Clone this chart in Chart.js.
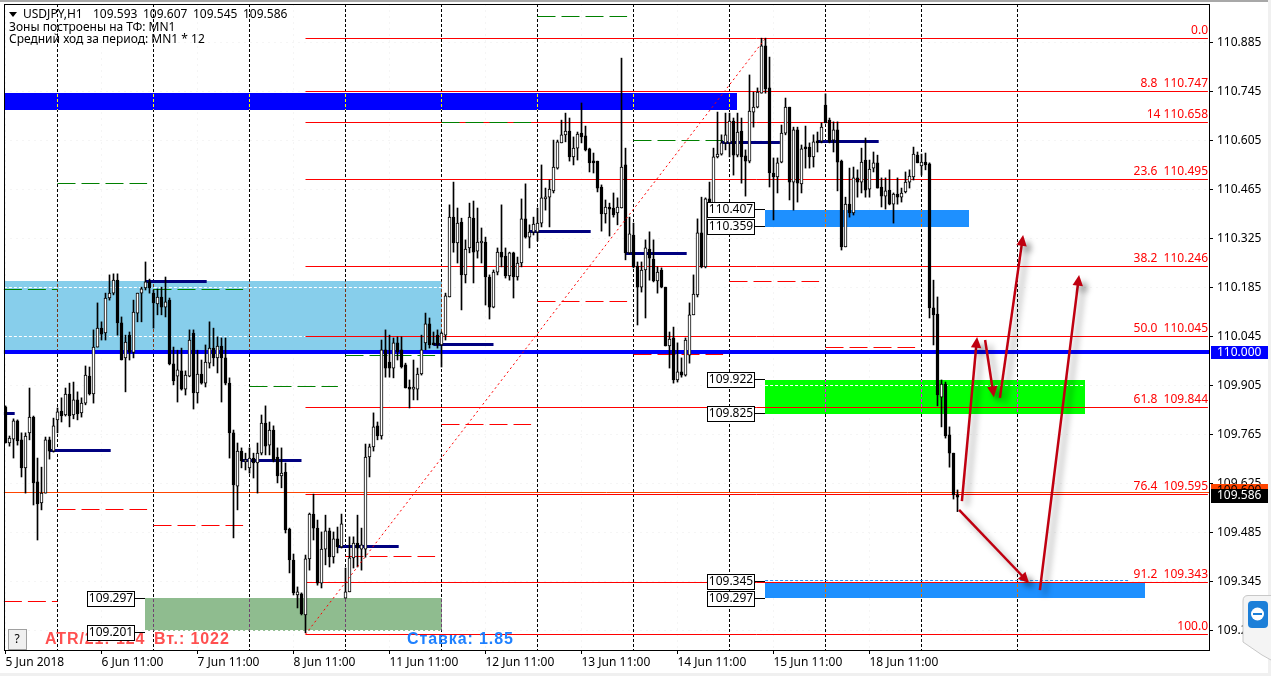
<!DOCTYPE html>
<html>
<head>
<meta charset="utf-8">
<title>USDJPY,H1</title>
<script src="https://cdn.jsdelivr.net/npm/chart.js@4"></script>
<style>
  html, body { margin: 0; padding: 0; background: #fff; overflow: hidden; }
  canvas { display: block; }
</style>
</head>
<body>
<canvas id="chart" width="1271" height="676"></canvas>
<script>
const opens = [
  109.844,109.741,109.752,109.804,109.750,109.670,109.770,109.815,109.630,109.570,
  109.598,109.750,109.718,109.807,109.832,109.821,109.881,109.821,109.864,109.827,
  109.855,109.932,109.881,110.015,110.069,110.055,110.155,110.169,110.206,110.084,
  109.984,110.049,110.000,110.112,110.169,110.184,110.201,110.169,110.138,110.158,
  110.129,110.149,109.967,109.932,109.947,109.895,109.932,110.055,109.884,109.938,
  109.912,109.969,110.012,109.984,110.018,109.984,109.912,109.770,109.618,109.718,
  109.687,109.670,109.698,109.684,109.712,109.798,109.735,109.778,109.701,109.647,
  109.658,109.495,109.407,109.307,109.310,109.250,109.410,109.538,109.498,109.341,
  109.438,109.490,109.416,109.467,109.444,109.298,109.316,109.413,109.455,109.438,
  109.438,109.701,109.730,109.790,109.761,110.007,109.972,109.955,110.027,110.007,
  109.964,109.898,109.895,109.895,109.938,110.027,110.081,110.027,110.049,110.021,
  110.049,110.158,110.386,110.312,110.372,110.221,110.298,110.383,110.289,110.312,
  110.315,110.215,110.129,110.229,110.286,110.275,110.218,110.284,110.215,110.255,
  110.381,110.329,110.343,110.343,110.369,110.438,110.443,110.461,110.526,110.598,
  110.621,110.632,110.558,110.583,110.626,110.618,110.581,110.546,110.546,110.472,
  110.395,110.415,110.412,110.398,110.412,110.535,110.284,110.335,110.246,110.186,
  110.235,110.295,110.266,110.204,110.235,110.186,110.018,110.041,109.921,109.944,
  109.935,109.992,110.107,110.164,110.341,110.244,110.438,110.426,110.558,110.566,
  110.598,110.598,110.660,110.563,110.632,110.561,110.546,110.686,110.700,110.740,
  110.875,110.755,110.512,110.501,110.543,110.626,110.700,110.486,110.635,110.481,
  110.586,110.586,110.558,110.601,110.603,110.706,110.663,110.606,110.635,110.546,
  110.301,110.423,110.398,110.498,110.486,110.549,110.466,110.526,110.541,110.472,
  110.446,110.463,110.423,110.452,110.443,110.458,110.486,110.501,110.563,110.532,
  110.543,110.538,110.127,110.109,109.872,109.909,109.764,109.712,109.593
];
const highs = [
  109.847,109.761,109.810,109.807,109.770,109.770,109.898,109.818,109.698,109.672,
  109.758,109.758,109.812,109.841,109.870,109.898,109.912,109.915,109.887,109.870,
  109.961,109.958,110.064,110.141,110.087,110.169,110.221,110.224,110.224,110.101,
  110.049,110.058,110.149,110.169,110.186,110.258,110.209,110.178,110.181,110.186,
  110.215,110.155,110.015,110.006,110.012,109.947,110.064,110.064,110.006,109.978,
  110.021,110.087,110.069,110.044,110.041,110.041,109.927,109.778,109.741,109.727,
  109.712,109.727,109.712,109.741,109.821,109.847,109.801,109.790,109.727,109.727,
  109.684,109.498,109.424,109.330,109.313,109.421,109.541,109.595,109.521,109.487,
  109.535,109.498,109.487,109.501,109.538,109.384,109.473,109.473,109.535,109.498,
  109.738,109.738,109.827,109.801,110.035,110.064,110.049,110.041,110.044,110.044,
  109.969,109.921,109.978,109.955,110.049,110.112,110.098,110.058,110.064,110.058,
  110.169,110.421,110.486,110.412,110.383,110.321,110.426,110.432,110.412,110.355,
  110.329,110.221,110.235,110.298,110.421,110.298,110.286,110.286,110.272,110.438,
  110.481,110.364,110.386,110.412,110.535,110.469,110.492,110.606,110.606,110.663,
  110.683,110.669,110.615,110.629,110.712,110.646,110.583,110.569,110.546,110.478,
  110.435,110.426,110.455,110.441,110.840,110.583,110.386,110.369,110.258,110.258,
  110.321,110.344,110.321,110.244,110.241,110.186,110.058,110.072,110.027,109.984,
  110.041,110.141,110.221,110.381,110.443,110.441,110.486,110.583,110.686,110.621,
  110.683,110.683,110.669,110.683,110.669,110.578,110.792,110.743,110.755,110.897,
  110.897,110.843,110.555,110.555,110.649,110.726,110.700,110.643,110.643,110.592,
  110.646,110.598,110.621,110.629,110.655,110.738,110.669,110.658,110.658,110.549,
  110.443,110.526,110.529,110.521,110.583,110.612,110.549,110.572,110.563,110.498,
  110.498,110.521,110.455,110.498,110.469,110.515,110.521,110.586,110.572,110.566,
  110.569,110.541,110.206,110.158,109.921,109.915,109.787,109.712,109.607
];
const lows = [
  109.741,109.732,109.698,109.735,109.644,109.598,109.750,109.564,109.464,109.550,
  109.598,109.695,109.715,109.770,109.801,109.818,109.787,109.810,109.807,109.815,
  109.850,109.878,109.855,110.015,110.035,110.035,110.149,110.164,110.049,109.978,
  109.887,109.978,109.984,110.087,110.087,110.178,110.169,110.069,110.107,110.107,
  110.101,109.964,109.907,109.858,109.892,109.878,109.930,109.838,109.855,109.909,
  109.901,109.955,109.961,109.941,109.858,109.907,109.698,109.470,109.550,109.670,
  109.664,109.655,109.641,109.598,109.707,109.707,109.707,109.687,109.627,109.613,
  109.484,109.370,109.307,109.270,109.250,109.199,109.378,109.464,109.335,109.327,
  109.393,109.387,109.398,109.427,109.441,109.298,109.316,109.384,109.387,109.378,
  109.415,109.644,109.718,109.750,109.752,109.929,109.929,109.927,109.978,109.955,
  109.898,109.841,109.864,109.864,109.935,110.007,110.012,110.021,110.012,109.958,
  110.035,110.158,110.286,110.255,110.121,110.198,110.284,110.198,110.269,110.255,
  110.135,110.095,110.127,110.221,110.244,110.212,110.206,110.155,110.206,110.244,
  110.326,110.298,110.335,110.318,110.358,110.406,110.358,110.455,110.523,110.598,
  110.601,110.546,110.535,110.549,110.598,110.575,110.515,110.512,110.458,110.346,
  110.369,110.332,110.386,110.364,110.412,110.264,110.281,110.241,110.078,110.172,
  110.098,110.206,110.201,110.169,110.184,110.018,109.955,109.912,109.915,109.929,
  109.932,109.969,110.107,110.158,110.241,110.241,110.398,110.421,110.555,110.563,
  110.578,110.558,110.506,110.558,110.483,110.446,110.541,110.643,110.698,110.740,
  110.740,110.472,110.378,110.455,110.541,110.621,110.435,110.406,110.429,110.455,
  110.526,110.526,110.529,110.572,110.598,110.655,110.598,110.572,110.461,110.292,
  110.301,110.386,110.392,110.443,110.455,110.443,110.443,110.515,110.469,110.415,
  110.409,110.421,110.369,110.423,110.429,110.455,110.469,110.492,110.541,110.506,
  110.521,110.098,110.021,109.847,109.787,109.755,109.672,109.581,109.545
];
const closes = [
  109.741,109.755,109.804,109.747,109.670,109.761,109.815,109.627,109.567,109.598,
  109.750,109.718,109.790,109.830,109.818,109.881,109.818,109.864,109.824,109.855,
  109.935,109.881,110.015,110.069,110.052,110.155,110.169,110.206,110.084,109.978,
  110.029,110.000,110.115,110.169,110.181,110.201,110.184,110.141,110.158,110.129,
  110.144,109.967,109.918,109.950,109.895,109.935,110.035,109.884,109.938,109.912,
  109.972,110.012,109.984,110.018,109.984,109.912,109.770,109.621,109.718,109.690,
  109.693,109.698,109.684,109.712,109.798,109.732,109.778,109.693,109.647,109.655,
  109.493,109.407,109.313,109.316,109.253,109.410,109.538,109.498,109.341,109.438,
  109.490,109.416,109.467,109.444,109.510,109.316,109.413,109.455,109.441,109.450,
  109.701,109.730,109.787,109.761,110.007,109.955,109.955,110.027,110.001,109.958,
  109.898,109.895,109.898,109.938,110.007,110.081,110.021,110.021,110.021,110.055,
  110.161,110.386,110.312,110.369,110.221,110.295,110.386,110.286,110.315,110.315,
  110.215,110.129,110.229,110.286,110.272,110.218,110.284,110.215,110.255,110.381,
  110.329,110.343,110.366,110.369,110.441,110.443,110.466,110.529,110.601,110.621,
  110.632,110.558,110.583,110.623,110.615,110.578,110.541,110.541,110.469,110.395,
  110.415,110.409,110.392,110.415,110.529,110.284,110.338,110.244,110.186,110.235,
  110.298,110.269,110.204,110.229,110.186,110.018,110.038,109.921,109.944,109.935,
  110.035,110.107,110.166,110.341,110.244,110.438,110.426,110.558,110.566,110.598,
  110.621,110.660,110.563,110.629,110.558,110.546,110.689,110.700,110.743,110.875,
  110.752,110.512,110.501,110.541,110.626,110.700,110.486,110.635,110.483,110.581,
  110.581,110.558,110.601,110.598,110.643,110.655,110.601,110.635,110.543,110.301,
  110.423,110.398,110.498,110.486,110.543,110.463,110.523,110.541,110.469,110.446,
  110.461,110.423,110.452,110.443,110.455,110.486,110.503,110.566,110.541,110.543,
  110.535,110.127,110.107,109.878,109.909,109.761,109.712,109.593,109.586
];

// axis labels
const priceTicks = [110.885,110.745,110.605,110.465,110.325,110.185,110.045,109.905,109.765,109.625,109.485,109.345,109.205];
const timeTicks = [0,24,48,72,96,120,144,168,192,216];
const timeLabels = ['5 Jun 2018','6 Jun 11:00','7 Jun 11:00','8 Jun 11:00','11 Jun 11:00','12 Jun 11:00','13 Jun 11:00','14 Jun 11:00','15 Jun 11:00','18 Jun 11:00'];
const sessionBars = [13,37,61,85,109,133,157,181,205,229,253];
const lastBarValues = ['109.593','109.607','109.545','109.586'];

// fibonacci grid, bars 75 to the right edge
const fibPrices = [110.897,110.745,110.656,110.494,110.246,110.046,109.843,109.595,109.343,109.195];
const fibLabels = ['0.0','8.8  110.747','14 110.658','23.6  110.495','38.2  110.246','50.0  110.045','61.8  109.844','76.4  109.595','91.2  109.343','100.0'];

// zones: [first bar, last bar, top price, bottom price]
const zoneBlue = [-0.4,182.9,110.740,110.692];
const zoneSky = [-0.4,109,110.204,110.000];
const zoneSea = [34.9,109,109.297,109.205];
const zoneResist = [189.9,240.9,110.407,110.359];
const zoneGreen = [189.9,269.9,109.922,109.825];
const zoneSupport = [189.9,284.9,109.345,109.297];

// daily dashed levels: [first bar, last bar, price]
const greenDashes = [[-0.4,13,110.178],[13,35.4,110.481],[37,59.4,110.179],[61,83.1,109.903],[85,107.4,109.991],[109,131.4,110.655],[133,155.4,110.960],[157,179.4,110.605]];
const redDashes = [[-0.4,13,109.288],[13,35.4,109.552],[37,59.4,109.506],[85,107.4,109.416],[109,131.4,109.793],[133,155.4,110.146],[157,179.4,109.994],[181,203.4,110.203],[205,227.4,110.014]];
const navyLevels = [[-0.4,2.3,109.824],[11,26.3,109.720],[35,50.3,110.203],[59,74,109.692],[83,98.3,109.446],[107,122,110.023],[131,146.3,110.345],[155,170.3,110.283],[179,193.6,110.600],[203,218.3,110.603]];
const whiteDashes = [[-0.4,109,110.185],[-0.4,109,110.045],[189.9,269.9,109.904],[34.9,109,109.206]];

// arrows: [bar from, price from, bar to, price to]
const arrows = [
  [238.4,109.550,255.9,109.341],
  [258.6,109.321,268.4,110.221],
  [239.1,109.575,242.9,110.044],
  [244.9,110.035,247.1,109.872],
  [248.6,109.870,254.4,110.335]
];

// boxed prices: [text, anchor bar of the zone, price]
const priceBoxes = [
  ['109.297',34.9,109.297],['109.201',34.9,109.201],
  ['110.407',189.9,110.407],['110.359',189.9,110.359],
  ['109.922',189.9,109.922],['109.825',189.9,109.825],
  ['109.345',189.9,109.345],['109.297',189.9,109.297]
];

const FONT = '12px "Noto Sans"';
const barIndex = opens.map((_, i) => i);

function hLine(chart, seg, color, width, dash) {
  const { ctx, scales: { x, y } } = chart;
  let py = y.getPixelForValue(seg[2]);
  py = width % 2 ? Math.floor(py) + 0.5 : Math.round(py);
  ctx.save();
  ctx.strokeStyle = color;
  ctx.lineWidth = width;
  ctx.setLineDash(dash || []);
  ctx.beginPath();
  ctx.moveTo(x.getPixelForValue(seg[0]), py);
  ctx.lineTo(x.getPixelForValue(seg[1]), py);
  ctx.stroke();
  ctx.restore();
}

function fillZone(chart, z, color) {
  const { ctx, scales: { x, y } } = chart;
  const x1 = Math.round(x.getPixelForValue(z[0]));
  const x2 = Math.round(x.getPixelForValue(z[1]));
  const y1 = Math.round(y.getPixelForValue(z[2]));
  const y2 = Math.round(y.getPixelForValue(z[3]));
  ctx.fillStyle = color;
  ctx.fillRect(x1, y1, x2 - x1, y2 - y1);
}

function drawArrow(chart, a) {
  const { ctx, scales: { x, y } } = chart;
  const x1 = x.getPixelForValue(a[0]), y1 = y.getPixelForValue(a[1]);
  const x2 = x.getPixelForValue(a[2]), y2 = y.getPixelForValue(a[3]);
  const ang = Math.atan2(y2 - y1, x2 - x1);
  ctx.save();
  ctx.shadowColor = 'rgba(0,0,0,0.4)';
  ctx.shadowBlur = 6;
  ctx.shadowOffsetX = 5;
  ctx.shadowOffsetY = 5;
  ctx.strokeStyle = '#c00010';
  ctx.fillStyle = '#c00010';
  ctx.lineWidth = 2.5;
  ctx.beginPath();
  ctx.moveTo(x1, y1);
  ctx.lineTo(x2 - 6 * Math.cos(ang), y2 - 6 * Math.sin(ang));
  ctx.stroke();
  ctx.beginPath();
  ctx.moveTo(x2, y2);
  ctx.lineTo(x2 - 12 * Math.cos(ang - 0.45), y2 - 12 * Math.sin(ang - 0.45));
  ctx.lineTo(x2 - 12 * Math.cos(ang + 0.45), y2 - 12 * Math.sin(ang + 0.45));
  ctx.closePath();
  ctx.fill();
  ctx.restore();
}

function text(ctx, s, px, py, color, font, align) {
  ctx.fillStyle = color;
  ctx.font = font || FONT;
  ctx.textAlign = align || 'left';
  ctx.textBaseline = 'middle';
  ctx.fillText(s, px, py);
}

const backgroundLayer = {
  id: 'backgroundLayer',
  beforeDraw(chart) {
    const { ctx, width, height } = chart;
    ctx.save();
    ctx.fillStyle = '#ffffff';
    ctx.fillRect(0, 0, width, height);
    ctx.fillStyle = '#a8a8a8';
    ctx.fillRect(0, 0, width, 2);
    ctx.fillStyle = '#f0f0f0';
    ctx.fillRect(0, 673, width, 3);
    ctx.fillRect(1268, 0, 3, height);
    ctx.restore();
  },
  beforeDatasetsDraw(chart) {
    const { ctx, chartArea: area, scales: { x } } = chart;
    ctx.save();
    fillZone(chart, zoneBlue, '#0000ff');
    fillZone(chart, zoneSky, '#87ceeb');
    fillZone(chart, zoneSea, '#8fbc8f');
    fillZone(chart, zoneResist, '#1e90ff');
    fillZone(chart, zoneGreen, '#00ff00');
    fillZone(chart, zoneSupport, '#1e90ff');
    whiteDashes.forEach(d => hLine(chart, d, '#ffffff', 1, [3, 2]));
    // session separators invert what they cross, like the terminal's grid
    ctx.globalCompositeOperation = 'difference';
    ctx.strokeStyle = '#ffffff';
    ctx.lineWidth = 1;
    ctx.setLineDash([3, 2]);
    sessionBars.forEach(b => {
      const px = Math.floor(x.getPixelForValue(b)) + 0.5;
      ctx.beginPath();
      ctx.moveTo(px, area.top);
      ctx.lineTo(px, area.bottom);
      ctx.stroke();
    });
    ctx.restore();

    hLine(chart, [-0.4, 300.9, 109.600], '#ff4500', 1);
    fibPrices.forEach(p => hLine(chart, [75, 300.6, p], '#ff0000', 1));
    hLine(chart, [189.9, 281, 109.348], '#1e90ff', 1, [3, 2]);
    hLine(chart, [-0.4, 300.9, 110.000], '#0000ff', 4);
    greenDashes.forEach(d => hLine(chart, d, '#008000', 1, [18, 6]));
    redDashes.forEach(d => hLine(chart, d, '#ff0000', 1, [18, 6]));
    navyLevels.forEach(d => hLine(chart, d, '#000080', 3));
  },
  afterDatasetsDraw(chart) {
    const { ctx, scales: { x, y } } = chart;
    // fibonacci trend line
    ctx.save();
    ctx.strokeStyle = '#ff0000';
    ctx.lineWidth = 1;
    ctx.setLineDash([2, 3]);
    ctx.beginPath();
    ctx.moveTo(x.getPixelForValue(75), y.getPixelForValue(109.195));
    ctx.lineTo(x.getPixelForValue(190), y.getPixelForValue(110.897));
    ctx.stroke();
    ctx.restore();
    arrows.forEach(a => drawArrow(chart, a));
  },
  afterDraw(chart) {
    const { ctx, chartArea: area, scales: { x, y } } = chart;
    ctx.save();
    // plot frame
    ctx.strokeStyle = '#000000';
    ctx.lineWidth = 1;
    ctx.strokeRect(area.left + 0.5, area.top + 0.5, area.right - area.left, area.bottom - area.top);

    // header
    ctx.fillStyle = '#000000';
    ctx.beginPath();
    ctx.moveTo(9, 12);
    ctx.lineTo(17, 12);
    ctx.lineTo(13, 17);
    ctx.closePath();
    ctx.fill();
    text(ctx, 'USDJPY,H1', 23, 15, '#000000');
    lastBarValues.forEach((v, i) => text(ctx, v, 93 + i * 50, 15, '#000000'));
    text(ctx, 'Зоны построены на ТФ: MN1', 9, 28, '#000000');
    text(ctx, 'Средний ход за период: MN1 * 12', 9, 40, '#000000');

    // fib labels
    fibPrices.forEach((p, i) => {
      const py = Math.floor(y.getPixelForValue(p));
      text(ctx, fibLabels[i], 1208, py - 7, '#ff0000', FONT, 'right');
    });

    // bottom info line
    const info = 'bold 16px "Liberation Sans"';
    ctx.letterSpacing = '0.9px';
    text(ctx, 'ATR/21: 124', 45, 640, '#ff5050', info);
    text(ctx, 'Вт.: 1022', 154, 640, '#ff5050', info);
    text(ctx, 'Ставка: 1.85', 407, 640, '#1e80ff', info);
    ctx.letterSpacing = '0px';

    // help button
    ctx.fillStyle = '#f0f0f0';
    ctx.fillRect(8, 629, 18, 21);
    ctx.strokeStyle = '#a0a0a0';
    ctx.strokeRect(8.5, 629.5, 18, 20);
    text(ctx, '?', 17, 640, '#000000', FONT, 'center');

    // boxed prices with their connectors
    priceBoxes.forEach(b => {
      const ax = Math.round(x.getPixelForValue(b[1]));
      const py = Math.floor(y.getPixelForValue(b[2])) + 0.5;
      const rx = ax - 10;
      const boxY = Math.round(py - 8);
      ctx.strokeStyle = '#000000';
      ctx.beginPath();
      ctx.moveTo(rx, py);
      ctx.lineTo(ax, py);
      ctx.stroke();
      ctx.fillStyle = '#ffffff';
      ctx.fillRect(rx - 48, boxY, 48, 16);
      ctx.strokeRect(rx - 47.5, boxY + 0.5, 47, 15);
      text(ctx, b[0], rx - 24, boxY + 8, '#000000', FONT, 'center');
    });

    // price tags on the axis
    ctx.fillStyle = '#ff4500';
    ctx.fillRect(1211, 484, 57, 14);
    text(ctx, '109.600', 1217, 491, '#000000');
    ctx.fillStyle = '#000000';
    ctx.fillRect(1211, 489, 57, 14);
    text(ctx, '109.586', 1217, 496, '#ffffff');
    ctx.fillStyle = '#0000ff';
    ctx.fillRect(1211, 346, 57, 13);
    text(ctx, '110.000', 1217, 352.5, '#ffffff');

    // remote desktop side tab
    ctx.fillStyle = '#f4f4f4';
    ctx.strokeStyle = '#c8c8c8';
    ctx.beginPath();
    ctx.moveTo(1271, 595.5);
    ctx.lineTo(1248, 595.5);
    ctx.quadraticCurveTo(1243, 595.5, 1243, 601);
    ctx.lineTo(1243, 642);
    ctx.lineTo(1262, 655);
    ctx.lineTo(1271, 660);
    ctx.fill();
    ctx.stroke();
    ctx.fillStyle = '#1c7fd8';
    ctx.beginPath();
    ctx.roundRect(1248, 601, 20, 27, 4);
    ctx.fill();
    ctx.fillStyle = '#ffffff';
    ctx.beginPath();
    ctx.arc(1257.5, 614, 6.5, 0, Math.PI * 2);
    ctx.fill();
    ctx.fillStyle = '#1c7fd8';
    ctx.fillRect(1253, 613, 9, 2);
    ctx.restore();
  }
};

new Chart(document.getElementById('chart'), {
  type: 'bar',
  data: {
    datasets: [
      {
        label: 'wicks',
        order: 2,
        barThickness: 1,
        backgroundColor: '#000000',
        data: barIndex.map(i => ({ x: i, y: [lows[i], highs[i]] }))
      },
      {
        label: 'bodies',
        order: 1,
        barThickness: 3,
        minBarLength: 2,
        borderWidth: 1,
        borderSkipped: false,
        borderColor: '#000000',
        backgroundColor: barIndex.map(i => closes[i] >= opens[i] ? '#ffffff' : '#000000'),
        data: barIndex.map(i => ({ x: i, y: [Math.min(opens[i], closes[i]), Math.max(opens[i], closes[i])] }))
      }
    ]
  },
  plugins: [backgroundLayer],
  options: {
    responsive: false,
    animation: false,
    devicePixelRatio: 1,
    grouped: false,
    layout: { padding: { left: 4, top: 4, right: 0, bottom: 0 } },
    plugins: { legend: { display: false }, tooltip: { enabled: false } },
    scales: {
      x: {
        type: 'linear',
        offset: false,
        min: -0.375,
        max: 300.875,
        grid: { offset: false, color: '#f5f5f5', tickColor: '#000000', tickLength: 4 },
        border: { color: '#000000', dash: [2, 4] },
        afterBuildTicks(scale) { scale.ticks = timeTicks.map(v => ({ value: v })); },
        afterFit(scale) { scale.height = 26; scale.paddingLeft = 0; scale.paddingRight = 0; },
        ticks: {
          autoSkip: false,
          maxRotation: 0,
          align: 'start',
          padding: 1,
          color: '#000000',
          font: { family: 'Noto Sans', size: 12 },
          callback: v => timeLabels[timeTicks.indexOf(v)]
        }
      },
      y: {
        position: 'right',
        min: 109.1499,
        max: 110.9946,
        grid: { color: '#f5f5f5', tickColor: '#000000', tickLength: 4 },
        border: { color: '#000000', dash: [2, 4] },
        afterBuildTicks(scale) { scale.ticks = priceTicks.map(v => ({ value: v })); },
        afterFit(scale) { scale.width = 62; scale.paddingTop = 0; scale.paddingBottom = 0; },
        ticks: {
          autoSkip: false,
          padding: 4,
          color: '#000000',
          font: { family: 'Noto Sans', size: 12 },
          callback: v => v.toFixed(3)
        }
      }
    }
  }
});
</script>
</body>
</html>
